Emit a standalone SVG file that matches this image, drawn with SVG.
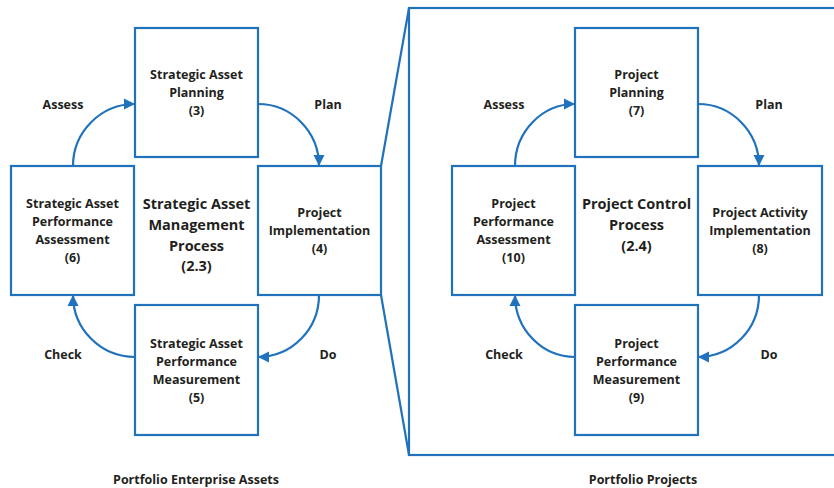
<svg xmlns="http://www.w3.org/2000/svg" width="834" height="488" viewBox="0 0 834 488">
<style>
.box{fill:#fff;stroke:#1f72bb;stroke-width:2.2}
.frame{fill:none;stroke:#1f72bb;stroke-width:2.2}
.conn{fill:none;stroke:#1f72bb;stroke-width:2.2}
text{font-family:"Open Sans","Liberation Sans",sans-serif;font-weight:700;fill:#231f20;text-anchor:middle}
.t{font-size:12.5px}
.big{font-size:14.5px}
.lbl{font-size:12.5px}
</style>
<defs>
<marker id="ah" viewBox="0 0 10 10" refX="10" refY="5" markerUnits="userSpaceOnUse" markerWidth="11" markerHeight="12" orient="auto">
<path d="M0,0 L10,5 L0,10 z" fill="#1f72bb"/>
</marker>
</defs>
<g id="zoom-frame">
<rect class="frame" x="409" y="8" width="440" height="447"/>
<path class="frame" d="M381,166 L409,8 M381,295 L409,455"/>
</g>
<g id="connectors">
<path class="conn" marker-end="url(#ah)" d="M73,166 A62,62 0 0 1 135,104"/>
<path class="conn" marker-end="url(#ah)" d="M258,104 A61,62 0 0 1 319,166"/>
<path class="conn" marker-end="url(#ah)" d="M319,295 A61,62 0 0 1 258,357"/>
<path class="conn" marker-end="url(#ah)" d="M135,357 A62,62 0 0 1 73,295"/>
<path class="conn" marker-end="url(#ah)" d="M515,166 A60,62 0 0 1 575,104"/>
<path class="conn" marker-end="url(#ah)" d="M698,104 A61,62 0 0 1 759,166"/>
<path class="conn" marker-end="url(#ah)" d="M759,295 A61,62 0 0 1 698,357"/>
<path class="conn" marker-end="url(#ah)" d="M575,357 A60,62 0 0 1 515,295"/>
</g>
<g id="labels">
<text class="lbl" x="63" y="108.5">Assess</text>
<text class="lbl" x="328" y="108.5">Plan</text>
<text class="lbl" x="63" y="358.5">Check</text>
<text class="lbl" x="328" y="358.5">Do</text>
<text class="lbl" x="504" y="108.5">Assess</text>
<text class="lbl" x="769" y="108.5">Plan</text>
<text class="lbl" x="504" y="358.5">Check</text>
<text class="lbl" x="769" y="358.5">Do</text>
<text class="lbl" x="196" y="484">Portfolio Enterprise Assets</text>
<text class="lbl" x="643" y="484">Portfolio Projects</text>
</g>
<g id="n3">
<rect class="box" x="135" y="28" width="123" height="129"/>
<text class="t" x="196.5" y="79">Strategic Asset</text>
<text class="t" x="196.5" y="97">Planning</text>
<text class="t" x="196.5" y="115">(3)</text>
</g>
<g id="n6">
<rect class="box" x="11" y="166" width="123" height="129"/>
<text class="t" x="72.5" y="207.5">Strategic Asset</text>
<text class="t" x="72.5" y="225.5">Performance</text>
<text class="t" x="72.5" y="243.5">Assessment</text>
<text class="t" x="72.5" y="261.5">(6)</text>
</g>
<g id="n4">
<rect class="box" x="258" y="166" width="123" height="129"/>
<text class="t" x="319.5" y="216.5">Project</text>
<text class="t" x="319.5" y="234.5">Implementation</text>
<text class="t" x="319.5" y="252.5">(4)</text>
</g>
<g id="n5">
<rect class="box" x="135" y="305" width="123" height="130"/>
<text class="t" x="196.5" y="347.5">Strategic Asset</text>
<text class="t" x="196.5" y="365.5">Performance</text>
<text class="t" x="196.5" y="383.5">Measurement</text>
<text class="t" x="196.5" y="401.5">(5)</text>
</g>
<g id="n23">
<text class="big" x="196.5" y="208.5">Strategic Asset</text>
<text class="big" x="196.5" y="230">Management</text>
<text class="big" x="196.5" y="250.5">Process</text>
<text class="big" x="196.5" y="271">(2.3)</text>
</g>
<g id="n7">
<rect class="box" x="575" y="28" width="123" height="129"/>
<text class="t" x="636.5" y="79">Project</text>
<text class="t" x="636.5" y="97">Planning</text>
<text class="t" x="636.5" y="115">(7)</text>
</g>
<g id="n10">
<rect class="box" x="452" y="166" width="123" height="129"/>
<text class="t" x="513.5" y="207.5">Project</text>
<text class="t" x="513.5" y="225.5">Performance</text>
<text class="t" x="513.5" y="243.5">Assessment</text>
<text class="t" x="513.5" y="261.5">(10)</text>
</g>
<g id="n8">
<rect class="box" x="698" y="166" width="124" height="129"/>
<text class="t" x="760" y="216.5">Project Activity</text>
<text class="t" x="760" y="234.5">Implementation</text>
<text class="t" x="760" y="252.5">(8)</text>
</g>
<g id="n9">
<rect class="box" x="575" y="305" width="123" height="130"/>
<text class="t" x="636.5" y="347.5">Project</text>
<text class="t" x="636.5" y="365.5">Performance</text>
<text class="t" x="636.5" y="383.5">Measurement</text>
<text class="t" x="636.5" y="401.5">(9)</text>
</g>
<g id="n24">
<text class="big" x="636.5" y="208.5">Project Control</text>
<text class="big" x="636.5" y="230">Process</text>
<text class="big" x="636.5" y="250.5">(2.4)</text>
</g>
</svg>
